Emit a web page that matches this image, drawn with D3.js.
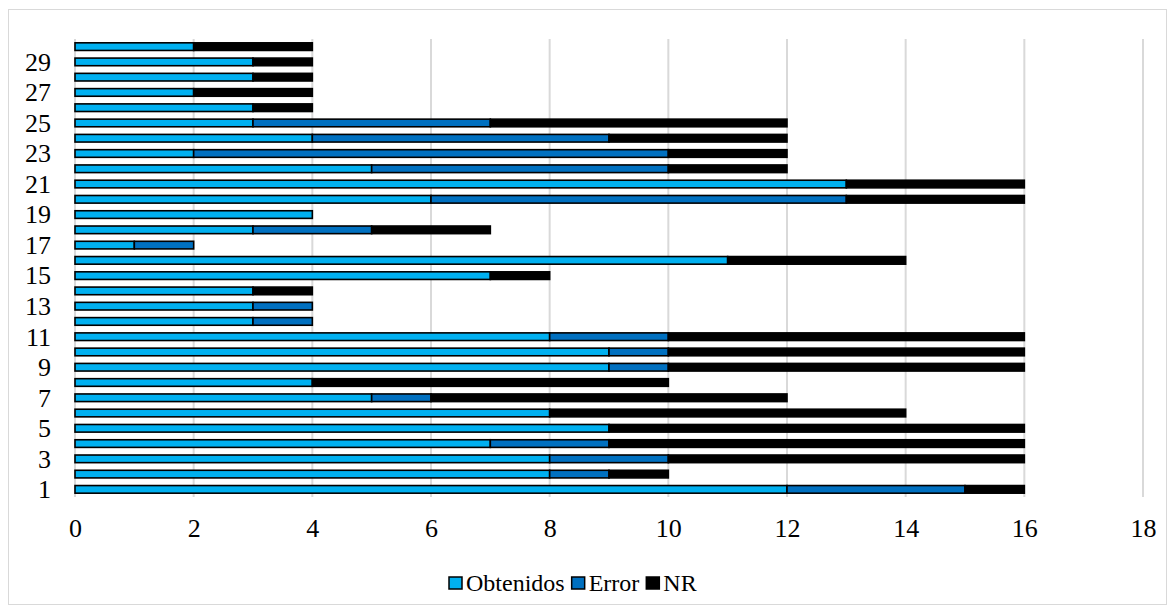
<!DOCTYPE html>
<html>
<head>
<meta charset="utf-8">
<script src="https://cdn.jsdelivr.net/npm/d3@7/dist/d3.min.js"></script>
<style>
  html, body { margin: 0; padding: 0; background: #fff; }
  svg { display: block; }
</style>
</head>
<body>
<svg id="chart" width="1175" height="614"></svg>
<script>
// Question numbers 1..30 (bottom to top)
const categories = d3.range(1, 31);

// Counts per question
const obtenidos = [12, 8, 8, 7, 9, 8, 5, 4, 9, 9, 8, 3, 3, 3, 7, 11, 1, 3, 4, 6, 13, 5, 2, 4, 3, 3, 2, 3, 3, 2];
const errores   = [3, 1, 2, 2, 0, 0, 1, 0, 1, 1, 2, 1, 1, 0, 0, 0, 1, 2, 0, 7, 0, 5, 8, 5, 4, 0, 0, 0, 0, 0];
const nr        = [1, 1, 6, 7, 7, 6, 6, 6, 6, 6, 6, 0, 0, 1, 1, 3, 0, 2, 0, 3, 3, 2, 2, 3, 5, 1, 2, 1, 1, 2];

const seriesNames = ["Obtenidos", "Error", "NR"];
const seriesColors = ["#00b0f0", "#0070c0", "#000000"];
const xTicks = [0, 2, 4, 6, 8, 10, 12, 14, 16, 18];
const yTickLabels = categories.filter(c => c % 2 === 1);

const FONT = "'Liberation Serif', Tinos, 'Times New Roman', 'DejaVu Serif', serif";
const FONT_SIZE = 26;
const LEGEND_FONT_SIZE = 24;

const rows = categories.map((c, i) => ({
  cat: c, Obtenidos: obtenidos[i], Error: errores[i], NR: nr[i]
}));
const stacked = d3.stack().keys(seriesNames)(rows);

const svg = d3.select("#chart");
const W = 1175, H = 614;
const margin = { left: 75, right: 32, top: 39, bottom: 117 };

// Outer chart border
svg.append("rect")
  .attr("x", 8.5).attr("y", 9.5)
  .attr("width", W - 17).attr("height", H - 19)
  .attr("fill", "#fff").attr("stroke", "#d9d9d9").attr("stroke-width", 1);

const x = d3.scaleLinear().domain([0, 18]).range([margin.left, 1143]);
const y = d3.scaleBand()
  .domain(categories.slice().reverse())
  .range([margin.top, H - margin.bottom])
  .paddingInner(0.5).paddingOuter(0.25);

// Vertical gridlines
svg.append("g").selectAll("line")
  .data(xTicks.filter(t => t > 0))
  .join("line")
  .attr("x1", d => x(d)).attr("x2", d => x(d))
  .attr("y1", margin.top).attr("y2", H - margin.bottom)
  .attr("stroke", "#d9d9d9").attr("stroke-width", 2);

// Category axis line
svg.append("line")
  .attr("x1", x(0)).attr("x2", x(0))
  .attr("y1", margin.top).attr("y2", H - margin.bottom)
  .attr("stroke", "#d9d9d9").attr("stroke-width", 2);

// Stacked bars
svg.append("g").selectAll("g")
  .data(stacked)
  .join("g")
  .attr("fill", (d, i) => seriesColors[i])
  .selectAll("rect")
  .data(d => d.filter(s => s[1] > s[0]))
  .join("rect")
  .attr("x", d => x(d[0]))
  .attr("y", d => y(d.data.cat))
  .attr("width", d => x(d[1]) - x(d[0]))
  .attr("height", y.bandwidth())
  .attr("stroke", "#000")
  .attr("stroke-width", 1.6);

// X axis tick labels
const xAxis = d3.axisBottom(x).tickValues(xTicks).tickSize(0).tickPadding(0);
svg.append("g")
  .attr("transform", `translate(0, ${H - margin.bottom + 22})`)
  .call(xAxis)
  .call(g => g.select(".domain").remove())
  .call(g => g.selectAll("text")
    .style("font-family", FONT).style("font-size", FONT_SIZE + "px").attr("fill", "#000"));

// Y axis labels (odd question numbers)
const yAxis = d3.axisLeft(y).tickValues(yTickLabels).tickSize(0).tickPadding(0);
svg.append("g")
  .attr("transform", `translate(${margin.left - 24}, 0)`)
  .call(yAxis)
  .call(g => g.select(".domain").remove())
  .call(g => g.selectAll("text")
    .style("font-family", FONT).style("font-size", FONT_SIZE + "px").attr("fill", "#000")
    .attr("dy", "0.34em"));

// Legend: items laid out left to right from measured text widths
const legend = svg.append("g").attr("transform", "translate(0, 583)");
let cursor = 449;
seriesNames.forEach((name, i) => {
  const g = legend.append("g").attr("transform", `translate(${cursor}, 0)`);
  g.append("rect")
    .attr("x", 0).attr("y", -6).attr("width", 13).attr("height", 12)
    .attr("fill", seriesColors[i]).attr("stroke", "#000").attr("stroke-width", 1.5);
  const t = g.append("text")
    .attr("x", 17).attr("y", 0).attr("dy", "0.35em")
    .style("font-family", FONT).style("font-size", LEGEND_FONT_SIZE + "px")
    .attr("fill", "#000")
    .text(name);
  cursor += 17 + t.node().getComputedTextLength() + 7;
});
</script>
</body>
</html>
